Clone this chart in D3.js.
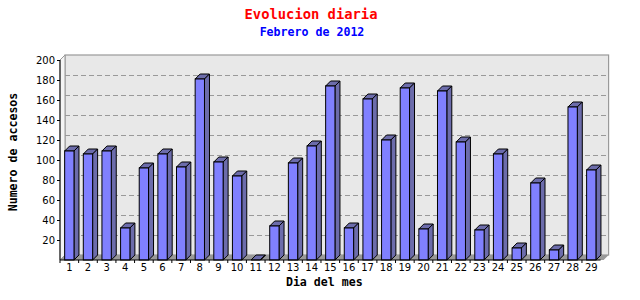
<!DOCTYPE html>
<html>
<head>
<meta charset="utf-8">
<script src="https://cdn.jsdelivr.net/npm/d3@7"></script>
<style>
  body { margin: 0; background: #fff; }
  svg { display: block; }
  .tick text { font-family: "DejaVu Sans", sans-serif; font-size: 10px; fill: #000; }
  .ttl { font-family: "DejaVu Sans Mono", monospace; font-weight: bold; }
</style>
</head>
<body>
<div id="chart"></div>
<script>
// Visits per day, February 2012
var dias = d3.range(1, 30).map(String);
var accesos = [109, 106, 109, 32, 92, 106, 93, 181, 98, 84,
               0, 34, 97, 114, 174, 32, 161, 120, 172, 31,
               169, 118, 30, 106, 12, 77, 10, 153, 90];
var yTicks = [20, 40, 60, 80, 100, 120, 140, 160, 180, 200];

var svgWidth = 640, svgHeight = 300;
var margin = { top: 60, right: 39.4, bottom: 40, left: 60 };
var depth = 5;   // 3d offset

var svg = d3.select("#chart").append("svg")
  .attr("width", svgWidth)
  .attr("height", svgHeight);

var x0 = margin.left, x1 = svgWidth - margin.right;
var yBottom = svgHeight - margin.bottom;

var xScale = d3.scaleBand()
  .domain(dias)
  .range([x0, x1])
  .paddingInner(0.5)
  .paddingOuter(0.25);

var yScale = d3.scaleLinear()
  .domain([0, 200])
  .range([yBottom, margin.top]);

// back wall
svg.append("rect")
  .attr("x", x0 + depth)
  .attr("y", yScale(200) - depth)
  .attr("width", x1 - x0 + 3)
  .attr("height", yScale(0) - yScale(200))
  .attr("fill", "#e8e8e8")
  .attr("stroke", "#999")
  .attr("stroke-width", 1.2);

// left side wall
svg.append("polygon")
  .attr("points", [[x0, yScale(200)], [x0 + depth, yScale(200) - depth],
                   [x0 + depth, yBottom - depth], [x0, yBottom]].join(" "))
  .attr("fill", "#f4f4f4")
  .attr("stroke", "#999");

// floor
svg.append("polygon")
  .attr("points", [[x0, yBottom], [x0 + depth, yBottom - depth],
                   [x1 + 3 + depth, yBottom - depth], [x1 + 3, yBottom]].join(" "))
  .attr("fill", "#999");

// dashed grid on back wall
svg.append("g").selectAll("line")
  .data(yTicks.slice(0, -1))
  .enter().append("line")
    .attr("x1", x0 + depth)
    .attr("x2", x1 + 3 + depth)
    .attr("y1", function(d) { return Math.round(yScale(d) - depth) + 0.5; })
    .attr("y2", function(d) { return Math.round(yScale(d) - depth) + 0.5; })
    .attr("stroke", "#999")
    .attr("stroke-dasharray", "5,3");

// bars
var bw = xScale.bandwidth();
var bars = svg.append("g").selectAll("g")
  .data(accesos)
  .enter().append("g");

bars.append("polygon")   // top
  .attr("points", function(d, i) {
    var bx = xScale(dias[i]), by = yScale(d);
    return [[bx, by], [bx + depth, by - depth], [bx + bw + depth, by - depth], [bx + bw, by]].join(" ");
  })
  .attr("fill", "#6c6cab")
  .attr("stroke", "#000");

bars.append("polygon")   // side
  .attr("points", function(d, i) {
    var bx = xScale(dias[i]) + bw, by = yScale(d);
    return [[bx, by], [bx + depth, by - depth], [bx + depth, yBottom - depth], [bx, yBottom]].join(" ");
  })
  .attr("fill", "#6c6cab")
  .attr("stroke", "#000");

bars.append("rect")      // front
  .attr("x", function(d, i) { return xScale(dias[i]); })
  .attr("y", function(d) { return yScale(d); })
  .attr("width", bw)
  .attr("height", function(d) { return yBottom - yScale(d); })
  .attr("fill", "#8080ff")
  .attr("stroke", "#000");

// axes
var leftAxis = d3.axisLeft(yScale).tickValues(yTicks).tickSize(3).tickPadding(2);
svg.append("g")
  .attr("transform", "translate(" + x0 + ",0)")
  .call(leftAxis)
  .call(function(g) { g.select(".domain").attr("d", "M0," + yScale(200) + "V" + yBottom); });

var bottomAxis = d3.axisBottom(xScale).tickSize(0).tickPadding(4);
svg.append("g")
  .attr("transform", "translate(0," + yBottom + ")")
  .call(bottomAxis)
  .call(function(g) { g.select(".domain").attr("d", "M" + x0 + ",0H" + x1); });

// tick marks at band boundaries
var step = xScale.step();
svg.append("g").selectAll("line")
  .data(dias)
  .enter().append("line")
    .attr("x1", function(d) { return xScale(d) - (step - bw) / 2; })
    .attr("x2", function(d) { return xScale(d) - (step - bw) / 2; })
    .attr("y1", yBottom)
    .attr("y2", yBottom + 3)
    .attr("stroke", "#000");

// titles
svg.append("text").attr("class", "ttl")
  .attr("x", 311).attr("y", 19)
  .attr("text-anchor", "middle")
  .attr("font-size", "13.8px")
  .attr("fill", "#ff0000")
  .text("Evolucion diaria");

svg.append("text").attr("class", "ttl")
  .attr("x", 312).attr("y", 36)
  .attr("text-anchor", "middle")
  .attr("font-size", "11.6px")
  .attr("fill", "#0000ff")
  .text("Febrero de 2012");

svg.append("text").attr("class", "ttl")
  .attr("x", (x0 + x1) / 2 - 6).attr("y", 286)
  .attr("text-anchor", "middle")
  .attr("font-size", "11.6px")
  .text("Dia del mes");

svg.append("text").attr("class", "ttl")
  .attr("transform", "translate(17," + 152 + ") rotate(-90)")
  .attr("text-anchor", "middle")
  .attr("font-size", "11.6px")
  .text("Numero de accesos");
</script>
</body>
</html>
